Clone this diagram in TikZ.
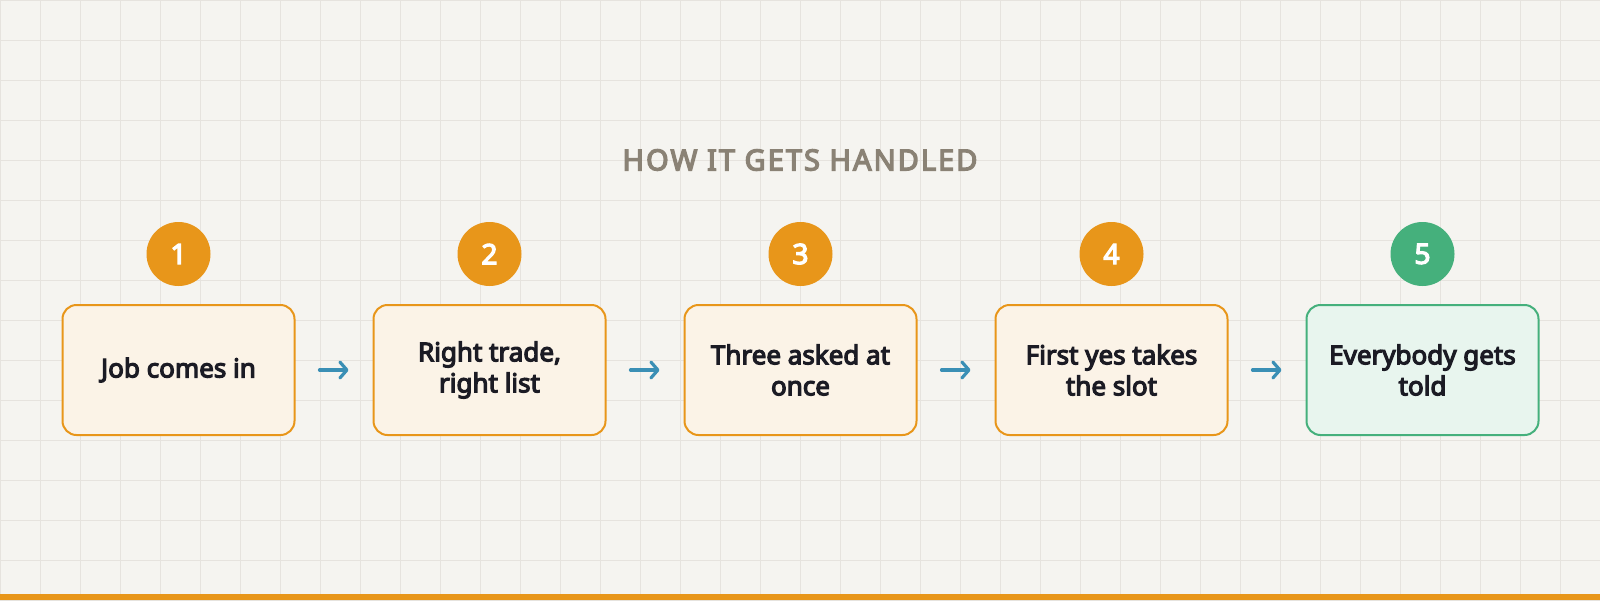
\documentclass[tikz,border=0pt]{standalone}
\usepackage{fontspec}
\setmainfont{Noto Sans}[BoldFont={Noto Sans}, BoldFeatures={FakeBold=4.5}]
\usetikzlibrary{arrows.meta}
\definecolor{bgc}{HTML}{F5F4F0}
\definecolor{gridc}{HTML}{E6E3DE}
\definecolor{orangec}{HTML}{E8961A}
\definecolor{orangefill}{HTML}{FBF3E7}
\definecolor{greenc}{HTML}{45B07C}
\definecolor{greenfill}{HTML}{E8F5EE}
\definecolor{arrowc}{HTML}{3A8FB5}
\definecolor{titlec}{HTML}{8A8275}
\definecolor{textc}{HTML}{1B1B24}
\tikzset{
  stepbox/.style={draw=orangec, fill=orangefill, line width=2pt, rounded corners=14pt,
    minimum width=232pt, minimum height=130pt, outer sep=0pt, align=center, text=textc,
    font=\fontsize{26}{31}\selectfont\bfseries},
  donebox/.style={stepbox, draw=greenc, fill=greenfill},
  badge/.style={circle, fill=orangec, minimum size=64pt, inner sep=0pt, text=white,
    font=\fontsize{28}{32}\selectfont\bfseries},
  donebadge/.style={badge, fill=greenc},
  flow/.style={draw=arrowc, line width=3.2pt, line cap=round, shorten <=25pt, shorten >=25pt,
    -{Straight Barb[length=7pt,width=16pt,line cap=round,line join=round]}},
}
\begin{document}
\begin{tikzpicture}[x=1pt,y=-1pt]
\fill[bgc] (0,0) rectangle (1600,600);
\useasboundingbox (0,0) rectangle (1600,600);
\foreach \i in {0,40,...,1600} \draw[gridc, line width=1pt] (\i,0) -- (\i,600);
\foreach \j in {0,40,...,600} \draw[gridc, line width=1pt] (0,\j) -- (1600,\j);
\fill[orangec] (0,594) rectangle (1600,600);
\node[text=titlec, font=\fontsize{29}{34}\selectfont\bfseries\addfontfeature{LetterSpace=7}] (title) at (800,160) {HOW IT GETS HANDLED};
\node[stepbox] (b1) at (178.5,370) {Job comes in};
\node[stepbox] (b2) at (489.5,370) {Right trade,\\right list};
\node[stepbox] (b3) at (800.5,370) {Three asked at\\once};
\node[stepbox] (b4) at (1111.5,370) {First yes takes\\the slot};
\node[donebox] (b5) at (1422.5,370) {Everybody gets\\told};
\node[badge] (n1) at (178.5,254) {1};
\node[badge] (n2) at (489.5,254) {2};
\node[badge] (n3) at (800.5,254) {3};
\node[badge] (n4) at (1111.5,254) {4};
\node[donebadge] (n5) at (1422.5,254) {5};
\draw[flow] (b1) -- (b2);
\draw[flow] (b2) -- (b3);
\draw[flow] (b3) -- (b4);
\draw[flow] (b4) -- (b5);
\end{tikzpicture}
\end{document}
